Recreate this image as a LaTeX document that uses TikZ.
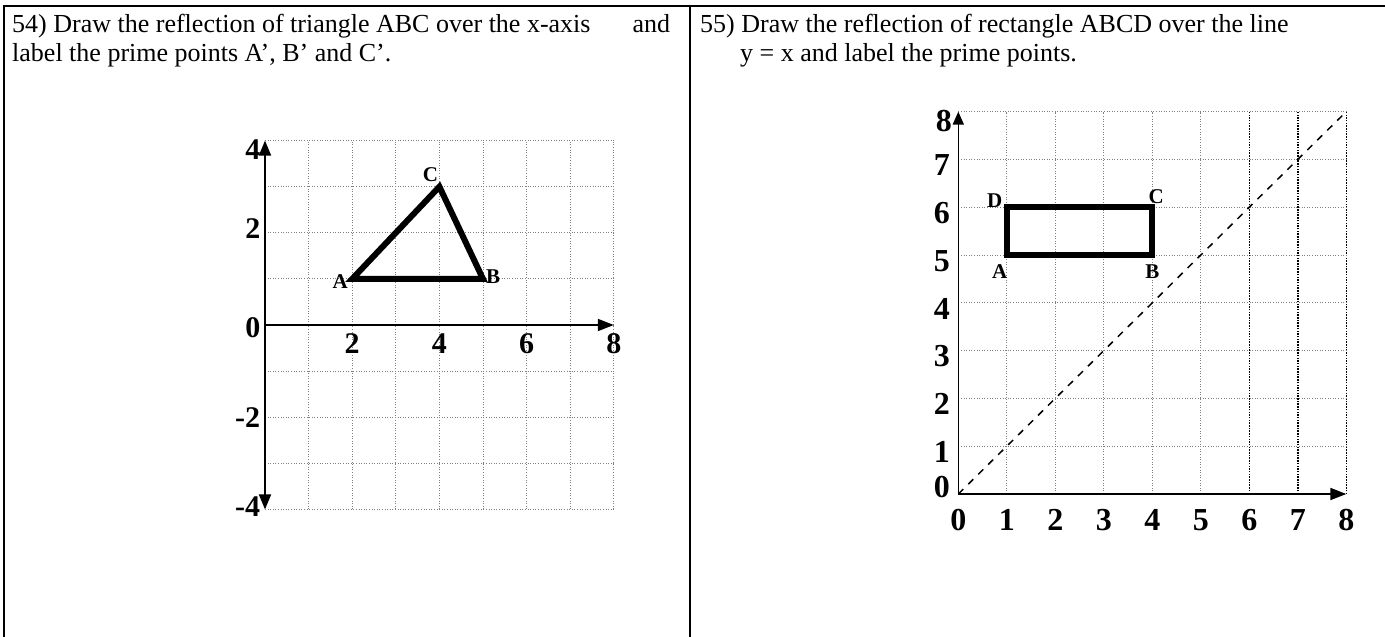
\documentclass[tikz,border=0pt]{standalone}
\usepackage{fontspec}
\setmainfont{Liberation Serif}
\usetikzlibrary{arrows.meta}
\tikzset{
  frame/.style={line width=2.5pt},
  gline/.style={gray, line width=0.9pt, dash pattern=on 1pt off 1.6pt},
  gdark/.style={black, line width=1.6pt, dash pattern=on 1.5pt off 1.2pt},
  axline/.style={line width=1.8pt},
  tip/.style={-{Triangle[length=16pt,width=12pt]}},
  figline/.style={line width=6pt, line join=miter},
  ticklbl/.style={font=\fontsize{30}{30}\selectfont\bfseries, inner sep=1pt},
  rticklbl/.style={font=\fontsize{32}{32}\selectfont\bfseries, inner sep=1pt},
  ptlbl/.style={font=\fontsize{21}{21}\selectfont\bfseries, inner sep=1pt},
  qtext/.style={anchor=base west, inner sep=0pt, font=\fontsize{26}{31}\selectfont},
}
\begin{document}
\begin{tikzpicture}[x=1pt,y=1pt]
\useasboundingbox (0,0) rectangle (1385,-637);
% frame
\draw[frame] (4,-637) -- (4,-6) -- (1385,-6);
\draw[frame] (690,-6) -- (690,-637);
% questions
\node[qtext] (q54a) at (12,-32) {54) Draw the reflection of triangle ABC over the x-axis\hspace{42pt}and};
\node[qtext] (q54b) at (12,-61) {label the prime points A’, B’ and C’.};
\node[qtext] (q55a) at (700,-32) {55) Draw the reflection of rectangle ABCD over the line};
\node[qtext] (q55b) at (740,-61) {y = x and label the prime points.};
% left graph
\begin{scope}[shift={(265pt,-325pt)}, x=43.6pt, y=46.1pt]
\foreach \i in {1,...,8}
  \draw[gline] (\i,-4) -- (\i,4);
\foreach \j in {-4,...,4}
  \draw[gline] (0,\j) -- (8,\j);
\draw[axline, {Triangle[length=15pt,width=12pt]}-{Triangle[length=15pt,width=12pt]}] (0,-4) -- (0,4);
\draw[axline, tip] (0,0) -- (8,0);
\foreach \v in {2,4,6,8}
  \node[ticklbl] (lx\v) at (\v,-0.4) {\v};
\foreach \v/\p in {4/3.8, 2/2.1, 0/-0.05}
  \node[ticklbl] (ly\v) at (-0.28,\p) {\v};
\node[ticklbl] (lym2) at (-0.4,-2) {-2};
\node[ticklbl] (lym4) at (-0.4,-3.95) {-4};
% triangle
\coordinate (A) at (2,1);
\coordinate (B) at (5,1);
\coordinate (C) at (4,3);
\draw[figline] (A) -- (B) -- (C) -- cycle;
\node[ptlbl] (lA) at ([xshift=-12pt,yshift=-3pt]A) {A};
\node[ptlbl] (lB) at ([xshift=10pt,yshift=2pt]B) {B};
\node[ptlbl] (lC) at ([xshift=-9pt,yshift=12pt]C) {C};
\end{scope}
% right graph
\begin{scope}[shift={(958.3pt,-494pt)}, x=48.5pt, y=47.8pt]
\foreach \i in {1,...,5}
  \draw[gline] (\i,0) -- (\i,8);
\foreach \i in {6,7,8}
  \draw[gdark] (\i,0) -- (\i,8);
\foreach \j in {1,...,8}
  \draw[gline] (0,\j) -- (8,\j);
\draw[line width=1.5pt, dash pattern=on 7pt off 7pt] (0,0) -- (8,8);
\draw[line width=1.5pt, -{Triangle[length=13pt,width=11pt]}] (0,0) -- (0,8);
\draw[axline, tip] (0,0) -- (8,0);
\foreach \v in {0,...,8}
  \node[rticklbl] (rx\v) at (\v,-0.55) {\v};
\foreach \v in {1,...,7}
  \node[rticklbl] (ry\v) at (-0.34,\v-0.12) {\v};
\node[rticklbl] (ry0) at (-0.34,0.15) {0};
\node[rticklbl] (ry8) at (-0.3,7.8) {8};
% rectangle
\coordinate (RA) at (1,5);
\coordinate (RB) at (4,5);
\coordinate (RC) at (4,6);
\coordinate (RD) at (1,6);
\draw[figline] (RA) -- (RB) -- (RC) -- (RD) -- cycle;
\node[ptlbl] (lRA) at ([xshift=-7pt,yshift=-17pt]RA) {A};
\node[ptlbl] (lRB) at ([yshift=-17pt]RB) {B};
\node[ptlbl] (lRC) at ([xshift=4pt,yshift=11pt]RC) {C};
\node[ptlbl] (lRD) at ([xshift=-12pt,yshift=7pt]RD) {D};
\end{scope}
\end{tikzpicture}
\end{document}
